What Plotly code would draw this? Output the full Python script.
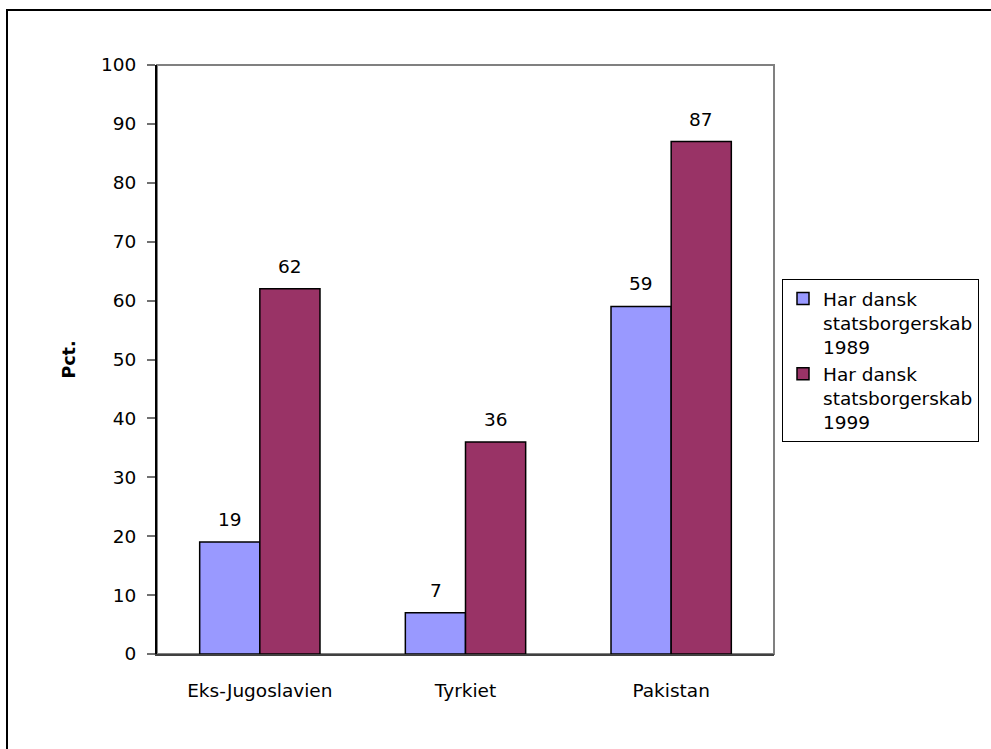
import plotly.graph_objects as go

categories = ["Eks-Jugoslavien", "Tyrkiet", "Pakistan"]
series_names = ["Har dansk<br>statsborgerskab<br>1989", "Har dansk<br>statsborgerskab<br>1999"]
values_1989 = [19, 7, 59]
values_1999 = [62, 36, 87]
y_ticks = [0, 10, 20, 30, 40, 50, 60, 70, 80, 90, 100]

FONT = "DejaVu Sans"
FS = 18.5

fig = go.Figure()
fig.add_trace(go.Bar(x=categories, y=values_1989, name=series_names[0],
                     marker=dict(color="#9999FF", line=dict(color="black", width=1.5))))
fig.add_trace(go.Bar(x=categories, y=values_1999, name=series_names[1],
                     marker=dict(color="#993366", line=dict(color="black", width=1.5))))

annotations = []
for vals, shift in ((values_1989, -30), (values_1999, 30)):
    for c, v in zip(categories, vals):
        annotations.append(dict(x=c, y=v, text=str(v), showarrow=False, xref="x", yref="y",
                                xshift=shift, yshift=10, yanchor="bottom",
                                font=dict(family=FONT, size=FS, color="black")))

W, H = 991, 749
L, R, T, B = 157, 774, 65, 654
pw, ph = R - L, B - T

def px(x):
    return (x - L) / pw

def py(y):
    return (B - y) / ph

fig.update_layout(
    width=W, height=H,
    margin=dict(l=L, r=W - R, t=T, b=H - B, pad=0),
    paper_bgcolor="white", plot_bgcolor="white",
    font=dict(family=FONT, size=FS, color="black"),
    barmode="group", bargap=0.415, bargroupgap=0,
    showlegend=True,
    legend=dict(x=px(782), y=py(279), xref="paper", yref="paper", xanchor="left", yanchor="top",
                bordercolor="black", borderwidth=1, bgcolor="white", valign="top",
                font=dict(family=FONT, size=FS), itemwidth=30),
    xaxis=dict(showline=True, linecolor="#404040", linewidth=2, ticks="", showgrid=False,
               ticklabelstandoff=19, tickfont=dict(family=FONT, size=FS)),
    yaxis=dict(range=[0, 100], tickvals=y_ticks, showline=True, linecolor="black", linewidth=2,
               ticks="outside", ticklen=8, tickcolor="#707070", tickwidth=1.5, showgrid=False,
               zeroline=False, ticklabelstandoff=7,
               title=dict(text="<b>Pct.</b>", standoff=21, font=dict(family=FONT, size=FS - 1))),
    annotations=annotations,
    shapes=[
        dict(type="rect", xref="paper", yref="paper", x0=0, x1=1, y0=0, y1=1,
             line=dict(color="#808080", width=2), layer="below"),
        dict(type="rect", xref="paper", yref="paper", x0=px(7), x1=px(1010), y0=py(10), y1=py(770),
             line=dict(color="black", width=2)),
    ],
)

fig.write_html("out.html", config={"displayModeBar": False},
               post_script="document.body.style.margin='0px';")
